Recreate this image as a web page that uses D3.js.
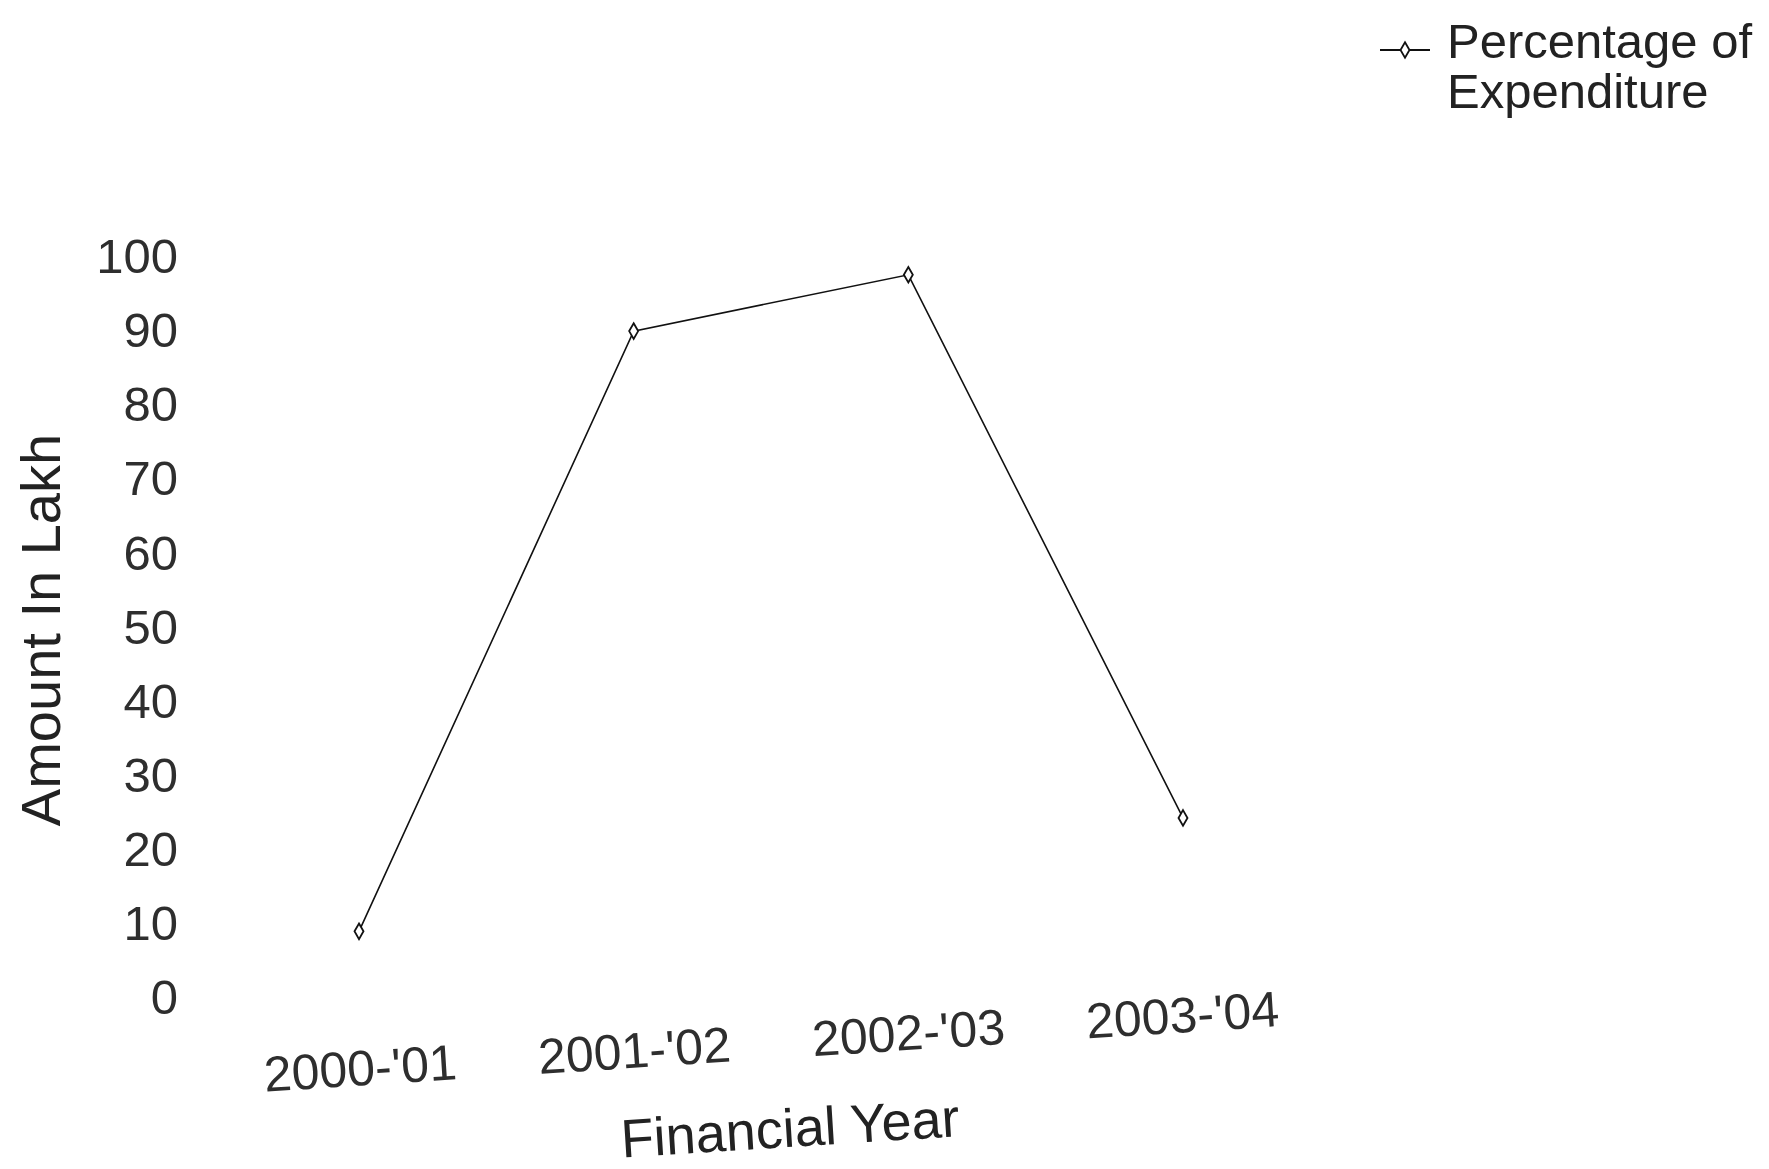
<!DOCTYPE html>
<html>
<head>
<meta charset="utf-8">
<script src="https://cdn.jsdelivr.net/npm/d3@7"></script>
<style>
  body { margin: 0; background: #ffffff; }
  text { font-family: "Liberation Sans", Arial, sans-serif; fill: #222; }
</style>
</head>
<body>
<div id="chart"></div>
<script>
// Data
const years = ["2000-'01", "2001-'02", "2002-'03", "2003-'04"];
const percentExpenditure = [9, 90, 97.6, 24.3];
const yTicks = [0, 10, 20, 30, 40, 50, 60, 70, 80, 90, 100];
const seriesName = ["Percentage of", "Expenditure"];

const W = 1769, H = 1169;

const svg = d3.select("#chart")
  .append("svg")
  .attr("width", W)
  .attr("height", H);

svg.append("rect").attr("width", W).attr("height", H).attr("fill", "#fff");

// Scales
const x = d3.scalePoint()
  .domain(years)
  .range([359, 1183]);

const y = d3.scaleLinear()
  .domain([0, 100])
  .range([998, 257]);

// Y axis (labels only, no line)
const yAxis = svg.append("g")
  .attr("transform", "translate(190,0)")
  .call(d3.axisLeft(y).tickValues(yTicks).tickSize(0).tickPadding(12));
yAxis.select(".domain").remove();
yAxis.selectAll("text")
  .style("font-size", "49px")
  .style("fill", "#2e2e2e")
  .attr("font-family", null);

// X axis labels, slightly tilted like the scanned page
const xAxis = svg.append("g")
  .attr("transform", "rotate(-3.7, 778, 1043) translate(0,1012)")
  .call(d3.axisBottom(x).tickSize(0).tickPadding(11));
xAxis.select(".domain").remove();
xAxis.selectAll("text")
  .style("font-size", "50px")
  .style("fill", "#2e2e2e")
  .attr("font-family", null);

// Axis titles
svg.append("text")
  .attr("transform", "translate(40,630) rotate(-90)")
  .attr("text-anchor", "middle")
  .attr("dy", "0.35em")
  .style("font-size", "56px")
  .text("Amount In Lakh");

svg.append("text")
  .attr("transform", "translate(790,1128) rotate(-3.6)")
  .attr("text-anchor", "middle")
  .attr("dy", "0.35em")
  .style("font-size", "54px")
  .text("Financial Year");

// Line
const line = d3.line()
  .x((d, i) => x(years[i]))
  .y(d => y(d));

svg.append("path")
  .datum(percentExpenditure)
  .attr("d", line)
  .attr("fill", "none")
  .attr("stroke", "#111")
  .attr("stroke-width", 1.6);

// Markers
const diamond = d3.symbol().type(d3.symbolDiamond).size(70);
svg.selectAll(".marker")
  .data(percentExpenditure)
  .enter()
  .append("path")
  .attr("class", "marker")
  .attr("d", diamond)
  .attr("transform", (d, i) => `translate(${x(years[i])},${y(d)})`)
  .attr("fill", "#fff")
  .attr("stroke", "#111")
  .attr("stroke-width", 1.8);

// Legend
const legend = svg.append("g").attr("transform", "translate(1380,50)");
legend.append("line")
  .attr("x1", 0).attr("x2", 50)
  .attr("stroke", "#111").attr("stroke-width", 1.8);
legend.append("path")
  .attr("d", diamond)
  .attr("transform", "translate(25,0)")
  .attr("fill", "#fff")
  .attr("stroke", "#111")
  .attr("stroke-width", 1.8);
legend.selectAll(".legend-label")
  .data(seriesName)
  .enter()
  .append("text")
  .attr("class", "legend-label")
  .attr("x", 67)
  .attr("y", (d, i) => 8 + i * 50)
  .style("font-size", "49px")
  .text(d => d);
</script>
</body>
</html>
